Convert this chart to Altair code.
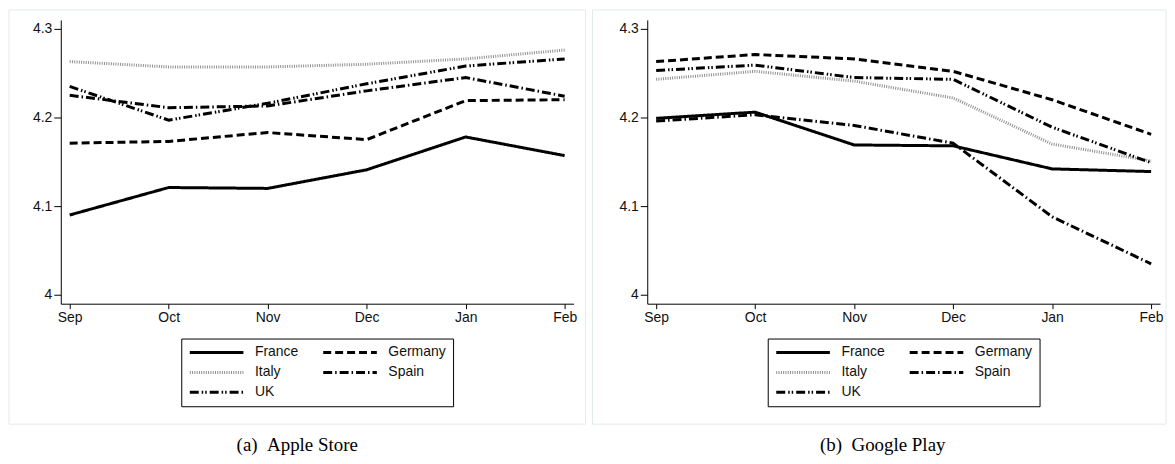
import altair as alt
import pandas as pd

months = ["Sep", "Oct", "Nov", "Dec", "Jan", "Feb"]
countries = ["France", "Germany", "Italy", "Spain", "UK"]

# Apple Store average ratings
apple_france = [4.090, 4.121, 4.120, 4.141, 4.178, 4.157]
apple_germany = [4.171, 4.173, 4.183, 4.175, 4.219, 4.220]
apple_italy = [4.263, 4.257, 4.257, 4.260, 4.266, 4.276]
apple_spain = [4.225, 4.211, 4.213, 4.230, 4.245, 4.224]
apple_uk = [4.235, 4.197, 4.216, 4.238, 4.258, 4.266]

# Google Play average ratings
google_france = [4.199, 4.206, 4.169, 4.168, 4.142, 4.139]
google_germany = [4.263, 4.271, 4.266, 4.252, 4.220, 4.181]
google_italy = [4.243, 4.252, 4.241, 4.222, 4.170, 4.151]
google_spain = [4.196, 4.203, 4.191, 4.171, 4.088, 4.035]
google_uk = [4.253, 4.259, 4.245, 4.243, 4.189, 4.149]

line_colors = ["#000000", "#000000", "#8f8f8f", "#000000", "#000000"]
line_dashes = [[1, 0], [8, 4], [1, 1.3], [9, 3, 1.5, 3], [9, 3, 1.5, 2, 1.5, 3]]


def make_df(series):
    rows = []
    for country, vals in zip(countries, series):
        for m, v in zip(months, vals):
            rows.append({"month": m, "country": country, "value": v})
    return pd.DataFrame(rows)


apple_df = make_df([apple_france, apple_germany, apple_italy, apple_spain, apple_uk])
google_df = make_df([google_france, google_germany, google_italy, google_spain, google_uk])

FONT = "Liberation Sans"


def panel(df, caption, fx1, fx2, dx):
    legend = alt.Legend(
        title=None, orient="none", legendX=121, legendY=320, columns=2,
        direction="horizontal", clipHeight=14,
        symbolType="stroke", symbolSize=2900, symbolStrokeWidth=3,
        labelFont=FONT, labelFontSize=14, labelColor="#111111",
        labelOffset=10, columnPadding=23, rowPadding=6, padding=7,
        strokeColor="#000000",
    )
    lines = alt.Chart(df).mark_line(strokeWidth=3, strokeCap="butt").encode(
        x=alt.X("month:O", sort=months,
                scale=alt.Scale(type="point", padding=0.09),
                axis=alt.Axis(title=None, labelAngle=0, tickSize=5, labelPadding=2)),
        y=alt.Y("value:Q",
                scale=alt.Scale(domain=[3.99, 4.31], nice=False, zero=False),
                axis=alt.Axis(title=None, values=[4, 4.1, 4.2, 4.3], format=".1~f",
                              grid=False, tickSize=7, labelPadding=2,
                              minExtent=52, maxExtent=52)),
        color=alt.Color("country:N", sort=countries,
                        scale=alt.Scale(domain=countries, range=line_colors),
                        legend=legend),
        strokeDash=alt.StrokeDash("country:N", sort=countries,
                                  scale=alt.Scale(domain=countries, range=line_dashes),
                                  legend=legend),
    )
    frame = alt.Chart(pd.DataFrame({"f": [0]})).mark_rect(
        fill="#ffffff", fillOpacity=0, stroke="#e3eaea", strokeWidth=1
    ).encode(
        x=alt.value(fx1), x2=alt.value(fx2), y=alt.value(-10), y2=alt.value(406)
    )
    return alt.layer(frame, lines).properties(
        width=515, height=285,
        title=alt.TitleParams(
            text=caption, orient="bottom", anchor="middle", frame="group",
            dx=dx, offset=11, font="Liberation Serif", fontSize=19,
            fontWeight="normal", color="#000000",
        ),
    ).resolve_scale(color="independent", strokeDash="independent")


left = panel(apple_df, "(a)\u00a0\u00a0Apple Store", -52, 527, -20)
right = panel(google_df, "(b)\u00a0\u00a0Google Play", -55, 521, -21)

chart = alt.hconcat(left, right, spacing=74, bounds="flush").resolve_scale(
    color="independent", strokeDash="independent"
).resolve_legend(color="independent", strokeDash="independent").configure(
    padding={"left": 0, "top": 0, "right": 0, "bottom": 0}
).configure_view(stroke="transparent").configure_axis(
    domainColor="#000000", tickColor="#000000", domainWidth=1, tickWidth=1,
    labelFont=FONT, labelFontSize=14, labelColor="#111111",
)

chart.save("out.html", embed_options={"renderer": "svg", "actions": False})
